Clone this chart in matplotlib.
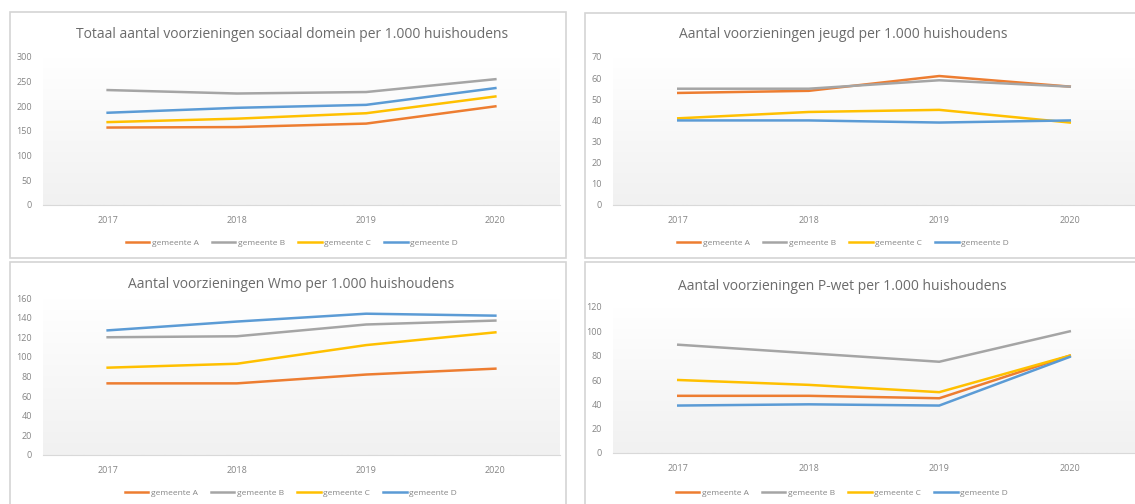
import numpy as np
import matplotlib.pyplot as plt
from matplotlib.patches import Rectangle
from matplotlib.colors import LinearSegmentedColormap

jaren = ['2017', '2018', '2019', '2020']
gemeenten = ['gemeente A', 'gemeente B', 'gemeente C', 'gemeente D']
kleuren = ['#ED7D31', '#A5A5A5', '#FFC000', '#5B9BD5']

# totaal sociaal domein
totaal_a = [157, 158, 165, 200]
totaal_b = [233, 226, 229, 255]
totaal_c = [168, 175, 186, 220]
totaal_d = [187, 197, 203, 237]

# jeugd
jeugd_a = [53, 54, 61, 56]
jeugd_b = [55, 55, 59, 56]
jeugd_c = [41, 44, 45, 39]
jeugd_d = [40, 40, 39, 40]

# wmo
wmo_a = [73, 73, 82, 88]
wmo_b = [120, 121, 133, 137]
wmo_c = [89, 93, 112, 125]
wmo_d = [127, 136, 144, 142]

# p-wet
pwet_a = [47, 47, 45, 80]
pwet_b = [89, 82, 75, 100]
pwet_c = [60, 56, 50, 80]
pwet_d = [39, 40, 39, 79]

plt.rcParams['font.family'] = ['Open Sans', 'DejaVu Sans']

fig = plt.figure(figsize=(11.35, 5.04), dpi=100)
W, H = 1135, 504

def px(x0, y0, x1, y1):
    # pixel box (links, boven, rechts, onder) -> figuurcoordinaten
    return [x0 / W, 1 - y1 / H, (x1 - x0) / W, (y1 - y0) / H]

# kaders van de vier grafieken
for x0, y0, x1, y1 in [(10, 12, 566, 258), (585, 13, 1140, 258),
                       (10, 262, 566, 510), (585, 262, 1140, 510)]:
    fig.patches.append(Rectangle((x0 / W, 1 - y1 / H), (x1 - x0) / W, (y1 - y0) / H,
                                 transform=fig.transFigure, facecolor='white',
                                 edgecolor='#d4d4d4', linewidth=1.2, zorder=-5))

# lichte verloop-achtergrond zoals op de foto
verloop = LinearSegmentedColormap.from_list('verloop', ['#ffffff', '#f1f1f1'])

grafieken = [
    ('Totaal aantal voorzieningen sociaal domein per 1.000 huishoudens',
     [totaal_a, totaal_b, totaal_c, totaal_d], 300, 50, (43, 57, 560, 205), 292, 34, 220, 243),
    ('Aantal voorzieningen jeugd per 1.000 huishoudens',
     [jeugd_a, jeugd_b, jeugd_c, jeugd_d], 70, 10, (613, 57, 1135, 205), 843, 34, 220, 243),
    ('Aantal voorzieningen Wmo per 1.000 huishoudens',
     [wmo_a, wmo_b, wmo_c, wmo_d], 160, 20, (43, 298, 560, 455), 291, 284, 469, 493),
    ('Aantal voorzieningen P-wet per 1.000 huishoudens',
     [pwet_a, pwet_b, pwet_c, pwet_d], 120, 20, (613, 307, 1135, 453), 842, 287, 469, 493),
]

for titel, reeksen, ymax, stap, box, tx, ty, lx, ly in grafieken:
    ax = fig.add_axes(px(*box))
    ax.imshow(np.linspace(0, 1, 100).reshape(-1, 1), cmap=verloop, aspect='auto',
              extent=(-0.5, 3.5, 0, ymax), origin='upper', zorder=0)
    for reeks, naam, kleur in zip(reeksen, gemeenten, kleuren):
        ax.plot(jaren, reeks, color=kleur, linewidth=1.8, label=naam, zorder=2)
    ax.set_xlim(-0.5, 3.5)
    ax.set_ylim(0, ymax)
    ax.set_yticks(range(0, ymax + 1, stap))
    for kant in ['top', 'right', 'left']:
        ax.spines[kant].set_visible(False)
    ax.spines['bottom'].set_color('#d9d9d9')
    ax.tick_params(length=0, labelsize=6.5, labelcolor='#858585')
    ax.tick_params(axis='x', pad=8)
    ax.tick_params(axis='y', pad=8)
    fig.text(tx / W, 1 - ty / H, titel, ha='center', va='center',
             fontsize=10, color='#6b6b6b')
    ax.legend(loc='center', bbox_to_anchor=(tx / W, 1 - ly / H), bbox_transform=fig.transFigure,
              ncol=4, frameon=False, fontsize=6, labelcolor='#858585',
              handlelength=2.8, handletextpad=0.3, columnspacing=1.6)

plt.savefig('out.png', dpi=100)
